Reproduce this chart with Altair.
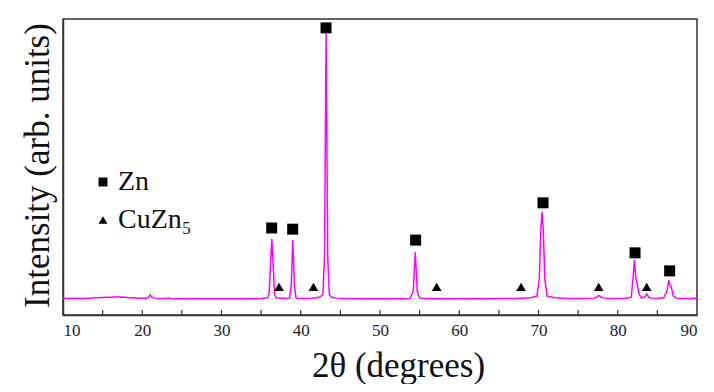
import altair as alt
import pandas as pd

# XRD pattern (2θ in degrees, intensity in arb. units)
two_theta = [10.0, 10.5, 11.0, 11.5, 12.0, 12.5, 13.0, 13.5, 14.0, 14.5, 15.0, 15.5, 16.0, 16.5,
             17.0, 17.2, 17.5, 18.0, 18.5, 19.0, 19.5, 20.0, 20.5, 20.8, 21.0, 21.2, 21.5, 22.0,
             22.5, 23.0, 23.3, 23.5, 24.0, 25.0, 26.0, 27.0, 28.0, 29.0, 30.0, 31.0, 32.0, 33.0,
             34.0, 35.0, 35.8, 36.0, 36.2, 36.35, 36.5, 36.7, 36.9, 37.3, 37.8, 38.3, 38.6, 38.8,
             39.0, 39.2, 39.4, 39.8, 40.5, 41.5, 42.0, 42.5, 42.8, 43.0, 43.2, 43.4, 43.6, 43.9,
             44.5, 45.0, 46.0, 47.0, 48.0, 49.0, 50.0, 51.0, 52.0, 53.0, 53.8, 54.2, 54.45, 54.7,
             55.0, 55.5, 56.0, 57.0, 58.0, 59.0, 60.0, 61.0, 62.0, 63.0, 64.0, 65.0, 66.0, 67.0,
             68.0, 69.0, 69.8, 70.1, 70.3, 70.45, 70.6, 70.8, 71.1, 72.0, 73.0, 74.0, 75.0, 76.0,
             77.0, 77.3, 77.6, 77.9, 78.3, 79.0, 80.0, 81.0, 81.7, 81.95, 82.1, 82.3, 82.45, 82.7,
             83.0, 83.4, 83.65, 83.9, 84.3, 85.0, 85.8, 86.2, 86.45, 86.6, 86.75, 87.0, 87.4, 88.0,
             89.0, 90.0]
intensity = [57, 56, 57, 56, 57, 56, 57, 57, 58, 58, 59, 60, 60, 61,
             62, 60, 61, 59, 58, 58, 57, 57, 57, 60, 68, 60, 57, 56,
             56, 56, 58, 56, 55, 55, 56, 55, 55, 55, 55, 55, 55, 56,
             55, 56, 58, 70, 180, 257, 180, 70, 58, 57, 57, 56, 58, 100,
             253, 100, 58, 56, 56, 57, 58, 62, 70, 200, 953, 200, 70, 60,
             57, 56, 56, 55, 56, 55, 55, 56, 55, 55, 56, 80, 213, 80,
             58, 56, 56, 55, 56, 55, 55, 56, 55, 56, 55, 56, 56, 56,
             57, 58, 64, 120, 290, 348, 290, 120, 64, 58, 57, 56, 56, 56,
             57, 60, 66, 60, 57, 56, 56, 56, 60, 130, 186, 120, 108, 70,
             58, 60, 72, 60, 57, 56, 58, 80, 118, 100, 95, 65, 57, 56,
             56, 57]

# Phase markers
zn_x = [36.33, 38.98, 43.19, 54.5, 70.57, 82.18, 86.55]
zn_y = [294, 290, 970, 253, 379, 210, 149]
cuzn5_x = [37.26, 41.6, 57.15, 67.8, 77.6, 83.65]
cuzn5_y = [95, 95, 95, 95, 95, 95]

phase_names = ["Zn", "CuZn₅"]
x_tick_positions = [15, 20, 25, 30, 35, 40, 45, 50, 55, 60, 65, 70, 75, 80, 85]
x_label_values = [10, 20, 30, 40, 50, 60, 70, 80, 90]

FONT = "Liberation Serif, Times New Roman, serif"
W, H = 634, 296

pattern = pd.DataFrame({"t": two_theta, "i": intensity})
zn_df = pd.DataFrame({"t": zn_x, "i": zn_y, "phase": phase_names[0]})
cu_df = pd.DataFrame({"t": cuzn5_x, "i": cuzn5_y, "phase": phase_names[1]})
ticks_df = pd.DataFrame({"t": x_tick_positions})

xscale = alt.Scale(domain=[10, 90], nice=False)
yscale = alt.Scale(domain=[0, 1000], nice=False)

x_axis = alt.Axis(
    values=x_label_values, ticks=False, grid=False, labelPadding=7,
    title="2θ (degrees)", titleX=335, titleY=61, titleBaseline="alphabetic", titleAlign="center",
)
y_axis = alt.Axis(
    labels=False, ticks=False, grid=False,
    title="Intensity (arb. units)", titleAngle=270, titleX=-15, titleY=146,
    titleBaseline="alphabetic", titleAlign="center",
)

line = alt.Chart(pattern).mark_line(color="#FF00FF", strokeWidth=1.5).encode(
    x=alt.X("t:Q", scale=xscale, axis=x_axis),
    y=alt.Y("i:Q", scale=yscale, axis=y_axis),
)

shape_scale = alt.Scale(domain=phase_names, range=["square", "triangle-up"])
legend = alt.Legend(
    title=None, orient="none", legendX=26, legendY=149, padding=0,
    labelOffset=1, symbolSize=80, symbolFillColor="black", symbolStrokeColor="black",
    symbolStrokeWidth=0, rowPadding=10,
)

zn_pts = alt.Chart(zn_df).mark_point(filled=True, color="black", size=121, opacity=1).encode(
    x=alt.X("t:Q", scale=xscale, axis=x_axis),
    y=alt.Y("i:Q", scale=yscale, axis=y_axis),
    shape=alt.Shape("phase:N", scale=shape_scale, legend=legend),
)
cu_pts = alt.Chart(cu_df).mark_point(filled=True, color="black", size=95, opacity=1).encode(
    x=alt.X("t:Q", scale=xscale, axis=x_axis),
    y=alt.Y("i:Q", scale=yscale, axis=y_axis),
    shape=alt.Shape("phase:N", scale=shape_scale, legend=legend),
)

tick_marks = alt.Chart(ticks_df).mark_rule(color="#333", strokeWidth=1.2).encode(
    x=alt.X("t:Q", scale=xscale, axis=x_axis),
    y=alt.value(H),
    y2=alt.value(H - 5),
)

chart = alt.layer(line, tick_marks, zn_pts, cu_pts).properties(
    width=W, height=H,
    autosize=alt.AutoSizeParams(type="none"),
    padding={"left": 55, "top": 11, "right": 9, "bottom": 69},
    background="white",
).configure_view(
    stroke="#333", strokeWidth=1.5
).configure_axis(
    labelFont=FONT, labelFontSize=17, labelColor="#222", domainColor="#333", domainWidth=1.5,
    titleFont=FONT, titleFontSize=35, titleFontWeight="normal", titleColor="#111",
).configure_legend(
    labelFont=FONT, labelFontSize=28, labelColor="#111",
)

chart.save("out.html", embed_options={"renderer": "svg", "actions": False})
